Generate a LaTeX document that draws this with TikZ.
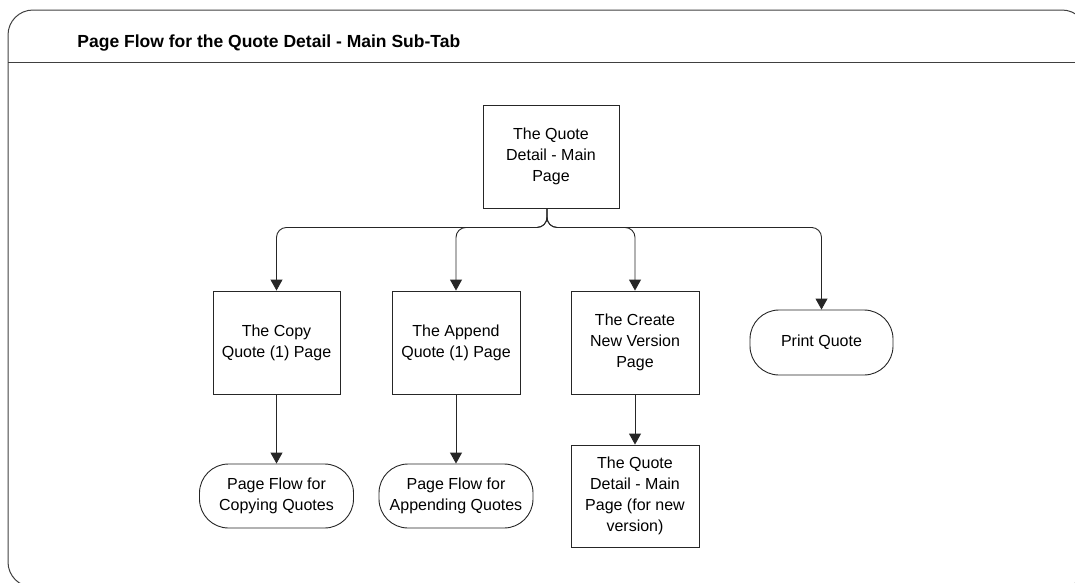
\documentclass[tikz,border=0pt]{standalone}
\usepackage{fontspec}
\setmainfont{Liberation Sans}
\usetikzlibrary{arrows.meta}
\begin{document}
\begin{tikzpicture}[x=1pt,y=-1pt,
  line width=0.9pt,
  txt/.style={font=\fontsize{16}{21}\selectfont, align=center, text=black},
  pagebox/.style={txt, draw=black!85, inner sep=0pt, minimum width=127pt, minimum height=103pt},
  term/.style={txt, draw=black!85, inner sep=0pt, rounded corners=29pt, minimum width=154pt, minimum height=64pt},
  link/.style={draw=black!85, rounded corners=10pt, -{Triangle[width=12pt,length=11pt]}},
  frame/.style={draw=black!75, line width=1pt}]
\useasboundingbox (0,0) rectangle (1075,582);
\clip (0,0) rectangle (1075,582);
% outer frame and title band
\draw[frame, rounded corners=25pt] (8,10) rectangle (1087,587);
\draw[frame] (8,62) -- (1087,62);
\node[anchor=base west, inner sep=0pt, font=\fontsize{17.5}{21}\selectfont\bfseries] (title) at (77,47) {Page Flow for the Quote Detail - Main Sub-Tab};
% pages
\node[pagebox, minimum width=136pt] (main) at (551,156.5) {The Quote\\Detail - Main\\Page};
\node[pagebox] (copy) at (276.5,342.5) {The Copy\\Quote (1) Page};
\node[pagebox, minimum width=128pt] (append) at (456,342.5) {The Append\\Quote (1) Page};
\node[pagebox, minimum width=128pt] (create) at (635,342.5) {The Create\\New Version\\Page};
\node[pagebox, minimum width=128pt, minimum height=102pt] (newmain) at (635,496) {The Quote\\Detail - Main\\Page (for new\\version)};
% terminals
\node[term, minimum width=143pt, minimum height=65pt] (print) at (821.5,342.5) {Print Quote};
\node[term] (flowcopy) at (276.5,496) {Page Flow for\\Copying Quotes};
\node[term] (flowappend) at (456,496) {Page Flow for\\Appending Quotes};
% connectors
\coordinate (hub) at ([xshift=-4pt]main.south);
\draw[link] (hub) -- ++(0,19) -| (copy.north);
\draw[link] (hub) -- ++(0,19) -| (append.north);
\draw[link] (hub) -- ++(0,19) -| (create.north);
\draw[link] (hub) -- ++(0,19) -| (print.north);
\draw[link] (copy.south) -- (flowcopy.north);
\draw[link] (append.south) -- (flowappend.north);
\draw[link] (create.south) -- (newmain.north);
\end{tikzpicture}
\end{document}
